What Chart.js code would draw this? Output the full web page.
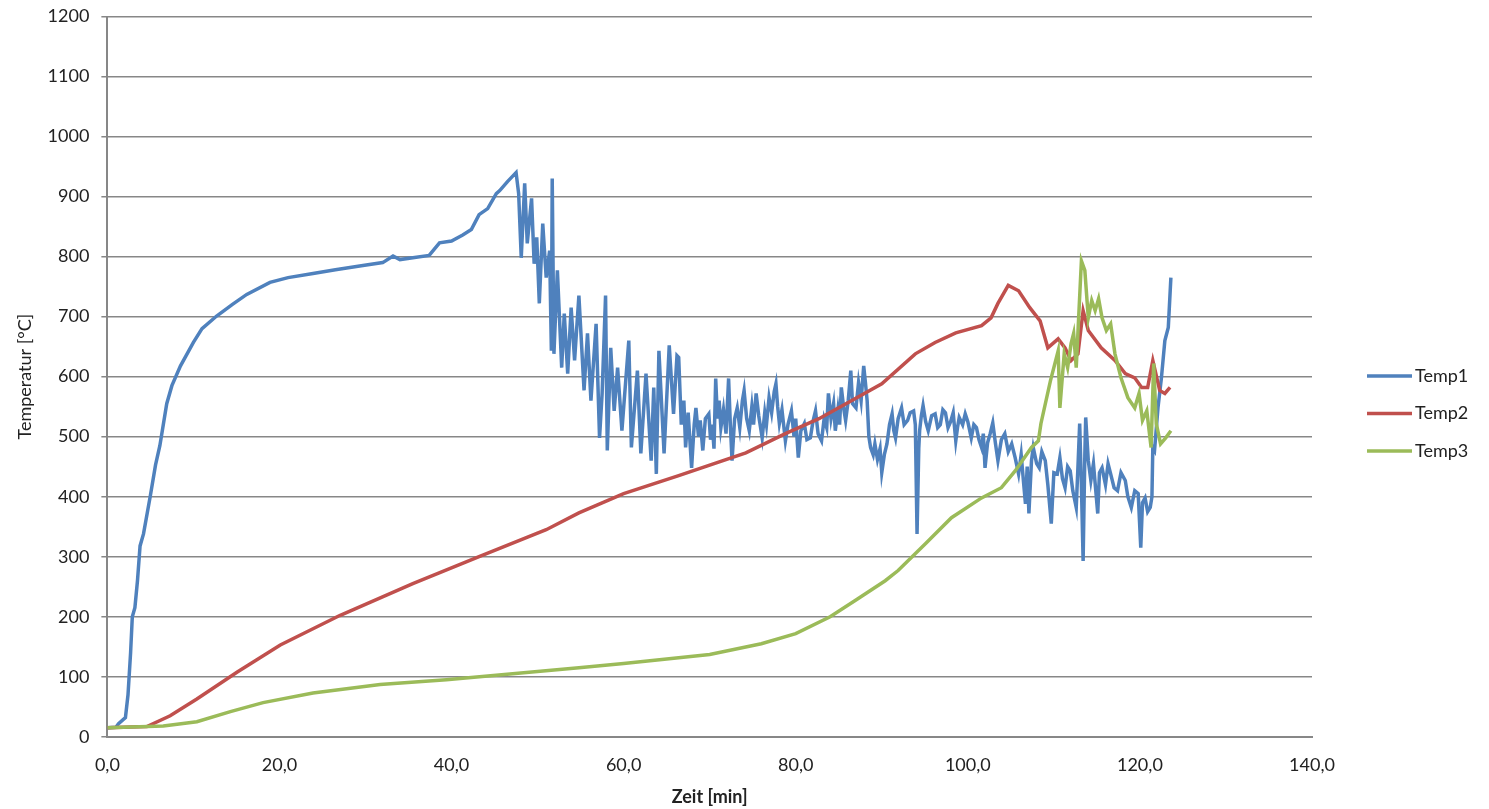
<!DOCTYPE html>
<html>
<head>
<meta charset="utf-8">
<script src="https://cdn.jsdelivr.net/npm/chart.js@4.4.1/dist/chart.umd.min.js"></script>
<style>
  html, body { margin: 0; padding: 0; background: #fff; }
  #wrap { width: 1489px; height: 809px; }
</style>
</head>
<body>
<div id="wrap"><canvas id="tempChart"></canvas></div>
<script>
// Werte: [Zeit min, Temperatur °C]
const seriesNames = ['Temp1', 'Temp2', 'Temp3'];
const xTickLabels = ['0,0', '20,0', '40,0', '60,0', '80,0', '100,0', '120,0', '140,0'];
const yTickLabels = ['0', '100', '200', '300', '400', '500', '600', '700', '800', '900', '1000', '1100', '1200'];

const temp1 = [
  [0,15],[1.0,16],[1.3,22],[2.1,32],[2.4,70],[2.7,140],[2.9,200],[3.2,215],[3.5,260],[3.8,318],
  [4.2,338],[5.0,402],[5.6,453],[6.1,485],[6.9,555],[7.5,585],[8.5,618],[10.0,657],[11.0,680],[12.7,701],
  [14.5,720],[16.2,737],[18.9,757],[21,765],[23.9,772],[26.5,778],[29.7,785],[32,790],[33.2,801],[34,795],
  [35.5,798],[37.4,802],[38.6,823],[40,826],[41.3,836],[42.3,845],[43.2,870],[44.2,880],[45.2,905],[45.6,910],
  [46.5,925],[47.5,940],[47.8,905],[48.1,798],[48.5,922],[48.8,822],[49.3,897],[49.6,788],[49.9,832],[50.2,722],
  [50.6,855],[51.0,765],[51.4,810],[51.6,643],[51.7,930],[51.9,638],[52.3,777],[52.8,615],[53.1,705],[53.5,605],
  [53.9,715],[54.3,627],[54.8,735],[55.4,577],[55.8,672],[56.2,560],[56.8,688],[57.2,498],[57.5,572],[57.9,735],
  [58.1,477],[58.5,648],[58.9,543],[59.3,615],[59.8,510],[60.6,660],[60.9,482],[61.6,610],[62.0,472],[62.6,605],
  [63.2,460],[63.5,582],[63.8,438],[64.1,643],[64.7,472],[65.3,652],[65.8,538],[66.2,635],[66.4,632],[66.7,520],
  [67.0,560],[67.2,482],[67.5,540],[67.9,448],[68.2,520],[68.4,548],[68.7,500],[68.9,527],[69.2,477],[69.5,530],
  [69.9,538],[70.1,495],[70.3,520],[70.5,480],[70.7,597],[70.9,530],[71.1,560],[71.3,515],[71.6,545],[71.9,505],
  [72.2,597],[72.4,520],[72.6,460],[72.9,530],[73.2,548],[73.5,515],[73.8,560],[74.0,577],[74.3,530],[74.6,510],
  [74.9,550],[75.1,520],[75.4,572],[75.7,535],[76.1,498],[76.4,540],[76.6,520],[76.9,565],[77.2,540],[77.5,575],
  [77.7,588],[77.9,550],[78.1,522],[78.4,545],[78.8,493],[79.1,520],[79.5,543],[79.8,500],[80.0,530],[80.3,465],
  [80.6,510],[81.0,522],[81.3,495],[81.7,498],[82.0,525],[82.3,543],[82.6,505],[83.0,493],[83.3,530],[83.6,515],
  [83.8,572],[84.1,530],[84.4,555],[84.6,510],[84.9,545],[85.1,520],[85.3,582],[85.6,545],[85.8,527],[86.1,560],
  [86.4,610],[86.6,555],[87.0,548],[87.3,590],[87.6,560],[87.9,618],[88.1,590],[88.3,560],[88.5,500],[88.7,482],
  [89.0,470],[89.2,488],[89.5,462],[89.8,480],[90.0,440],[90.3,470],[90.6,488],[90.9,520],[91.2,538],[91.4,510],
  [91.6,498],[91.9,530],[92.3,548],[92.6,520],[93.0,527],[93.3,540],[93.7,543],[93.9,520],[94.1,338],[94.3,480],
  [94.4,510],[94.6,535],[94.8,552],[95.1,525],[95.4,510],[95.8,535],[96.2,538],[96.5,515],[96.8,520],[97.1,545],
  [97.4,540],[97.7,515],[98.0,525],[98.3,540],[98.6,493],[98.8,515],[99.0,532],[99.4,520],[99.7,538],[100.0,525],
  [100.4,498],[100.7,520],[101.0,515],[101.3,495],[101.6,482],[101.8,505],[102.0,448],[102.3,490],[102.6,505],[102.9,523],
  [103.2,490],[103.5,460],[103.9,495],[104.3,505],[104.7,475],[105.1,488],[105.5,465],[105.9,438],[106.2,470],[106.5,420],
  [106.7,388],[106.9,450],[107.1,372],[107.4,460],[107.6,482],[108.0,455],[108.3,448],[108.6,475],[109.0,460],[109.3,420],
  [109.7,355],[110.0,440],[110.4,438],[110.7,465],[111.0,430],[111.3,415],[111.6,450],[111.9,443],[112.2,410],[112.6,382],
  [112.8,450],[113.0,522],[113.2,420],[113.4,293],[113.6,470],[113.7,532],[114.0,460],[114.3,427],[114.6,455],[115.1,372],
  [115.3,440],[115.6,448],[116.0,420],[116.3,455],[116.6,438],[117.0,415],[117.4,410],[117.8,440],[118.3,427],[118.6,400],
  [119.0,382],[119.4,410],[119.8,405],[120.1,315],[120.3,390],[120.6,398],[120.9,375],[121.2,382],[121.4,400],[121.5,482],
  [121.7,477],[122.1,548],[122.5,598],[122.9,660],[123.3,682],[123.6,765]
];

const temp2 = [
  [0,15],[4.6,17],[7.3,35],[10.4,63],[15.1,108],[20.1,153],[27.0,202],[35.5,255],[43.2,300],[51.0,345],
  [54.8,373],[60.0,405],[66.4,435],[74.2,473],[78.8,505],[82.7,530],[86.1,557],[90.0,588],[93.9,638],[96.2,657],
  [98.6,673],[101.6,685],[102.7,698],[103.5,722],[104.7,752],[105.9,743],[107.2,715],[108.4,693],[109.3,648],[110.5,663],
  [111.3,648],[112.0,627],[112.8,638],[113.4,710],[114.0,677],[115.5,648],[117.1,627],[118.3,605],[119.4,598],[120.2,582],
  [120.9,582],[121.5,627],[122.3,577],[122.9,572],[123.5,582]
];

const temp3 = [
  [0,15],[6.5,18],[10.4,25],[14.3,42],[18.1,57],[23.9,73],[31.7,87],[39.4,95],[47.1,105],[54.8,115],
  [60.0,122],[70.0,137],[76.0,155],[80.0,172],[84.0,200],[87.0,228],[90.4,260],[91.9,277],[95.1,322],[98.1,365],
  [101.6,398],[103.9,415],[105.5,443],[107.4,482],[108.2,493],[108.5,522],[109.6,593],[110.5,643],[110.7,548],[111.2,638],
  [111.6,615],[112.0,655],[112.3,672],[112.6,615],[113.2,793],[113.6,777],[114.0,698],[114.4,727],[114.8,710],[115.2,730],
  [115.6,698],[116.1,677],[116.6,688],[117.1,638],[117.8,598],[118.6,565],[119.4,548],[119.9,572],[120.3,527],[120.8,543],
  [121.3,482],[121.6,622],[121.9,522],[122.4,488],[123.0,498],[123.6,510]
];

const colors = ['#4f81bd', '#c0504d', '#9bbb59'];
const textColor = '#222222';
const gridColor = '#878787';
const fontFamily = 'Lato, "Open Sans", sans-serif';

const toPoints = arr => arr.map(p => ({ x: p[0], y: p[1] }));
const allSeries = [temp1, temp2, temp3];

// Legende rechts neben der Zeichenfläche (wie in Excel)
const sideLegend = {
  id: 'sideLegend',
  afterDraw(chart) {
    const { ctx, chartArea } = chart;
    const x0 = chartArea.right + 55;
    const yMid = chart.height / 2 + 9;
    ctx.save();
    ctx.font = '18px ' + fontFamily;
    ctx.textBaseline = 'middle';
    ctx.textAlign = 'left';
    chart.data.datasets.forEach((ds, i) => {
      const y = yMid + (i - 1) * 37.5;
      ctx.strokeStyle = ds.borderColor;
      ctx.lineWidth = 3.5;
      ctx.beginPath();
      ctx.moveTo(x0, y);
      ctx.lineTo(x0 + 45, y);
      ctx.stroke();
      ctx.fillStyle = textColor;
      ctx.fillText(ds.label, x0 + 48, y);
    });
    ctx.restore();
  }
};

new Chart(document.getElementById('tempChart'), {
  type: 'line',
  data: {
    datasets: allSeries.map((s, i) => ({
      label: seriesNames[i],
      data: toPoints(s),
      borderColor: colors[i],
      backgroundColor: colors[i],
      borderWidth: 3.5,
      pointRadius: 0,
      tension: 0,
      order: 3 - i
    }))
  },
  options: {
    responsive: true,
    maintainAspectRatio: false,
    animation: false,
    layout: { padding: { left: 12, top: 0, right: 177, bottom: 1 } },
    plugins: {
      tooltip: { enabled: false },
      legend: { display: false }
    },
    scales: {
      x: {
        type: 'linear',
        min: 0,
        max: 140,
        ticks: {
          stepSize: 20,
          color: textColor,
          font: { family: fontFamily, size: 18 },
          maxRotation: 0,
          padding: 10,
          callback: (v) => xTickLabels[Math.round(v / 20)]
        },
        grid: { display: false },
        border: { display: true, color: gridColor, width: 2 },
        title: {
          display: true,
          text: 'Zeit [min]',
          color: textColor,
          font: { family: fontFamily, size: 18, weight: 'bold' },
          padding: { top: 0, bottom: 0 }
        }
      },
      y: {
        min: 0,
        max: 1200,
        ticks: {
          stepSize: 100,
          color: textColor,
          font: { family: fontFamily, size: 18, lineHeight: 0.5 },
          padding: 12,
          callback: (v) => yTickLabels[Math.round(v / 100)]
        },
        grid: {
          color: gridColor,
          lineWidth: 1.5,
          tickLength: 6,
          drawTicks: true
        },
        border: { display: true, color: gridColor, width: 2 },
        title: {
          display: true,
          text: 'Temperatur [°C]',
          color: textColor,
          font: { family: fontFamily, size: 18 },
          padding: { top: 2, bottom: 0 }
        }
      }
    }
  },
  plugins: [sideLegend]
});
</script>
</body>
</html>
